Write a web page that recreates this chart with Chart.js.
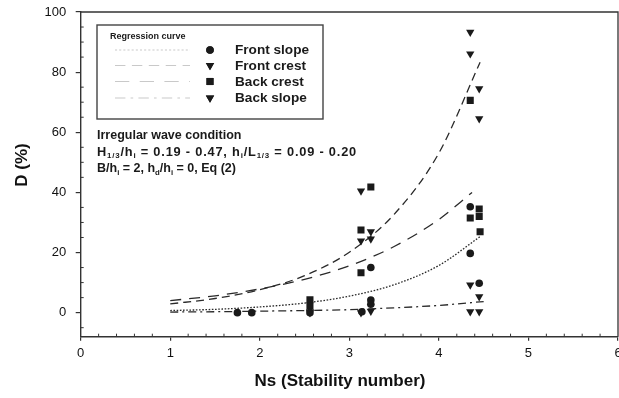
<!DOCTYPE html>
<html>
<head>
<meta charset="utf-8">
<script src="https://cdn.jsdelivr.net/npm/chart.js@4/dist/chart.umd.min.js"></script>
<style>
  html, body { margin: 0; padding: 0; background: #fff; }
  #c { display: block; }
</style>
</head>
<body>
<canvas id="c" width="619" height="398"></canvas>
<script>
// Damage D (%) against stability number Ns, four armour sections
const xTicks = [0, 1, 2, 3, 4, 5, 6];
const yTicks = [0, 20, 40, 60, 80, 100];

// Measured points [Ns, D]
const frontSlopePts = [[1.75, 0], [1.91, 0], [2.56, 0], [3.14, 0.3], [3.24, 15], [3.24, 4.2], [3.24, 2.8], [4.35, 35.2], [4.35, 19.7], [4.45, 9.8]];
const frontCrestPts = [[2.56, 0.3], [3.13, 40.5], [3.13, 23.9], [3.24, 26.9], [3.24, 24.5], [4.35, 93.3], [4.35, 86.1], [4.45, 74.5], [4.45, 64.5]];
const backCrestPts = [[2.56, 4.3], [2.56, 2.3], [3.13, 27.5], [3.13, 13.3], [3.24, 41.8], [4.35, 70.6], [4.35, 31.5], [4.45, 34.5], [4.45, 32.0], [4.46, 26.9]];
const backSlopePts = [[2.56, 0], [3.13, 0], [3.24, 0.5], [4.35, 9.2], [4.45, 5.3], [4.35, 0.3], [4.45, 0.3]];

// Regression curves [Ns, D]
const frontSlopeCurve = [[1.0, 0.7], [1.5, 1.1], [2.0, 1.9], [2.5, 3.2], [3.0, 5.5], [3.5, 9.3], [4.0, 15.7], [4.47, 25.5]];
const frontCrestCurve = [[1.0, 2.9], [1.5, 4.7], [2.0, 7.6], [2.5, 12.3], [3.0, 20.1], [3.5, 32.7], [4.0, 53.1], [4.46, 83.3]];
const backCrestCurve = [[1.0, 4.0], [1.5, 5.6], [2.0, 7.9], [2.5, 11.1], [3.0, 15.6], [3.5, 22.0], [4.0, 31.0], [4.37, 40.0]];
const backSlopeCurve = [[1.0, 0.2], [1.5, 0.3], [2.0, 0.5], [2.5, 0.7], [3.0, 1.0], [3.5, 1.6], [4.0, 2.4], [4.5, 3.7]];

const seriesNames = ['Front slope', 'Front crest', 'Back crest', 'Back slope'];

const INK = '#1a1a1a';
const AXIS = '#333';
const FONT = '"Liberation Sans", Arial, sans-serif';

const toXY = arr => arr.map(([x, y]) => ({ x, y }));

const markerStyle = [
  { pointStyle: 'circle', radius: 3.8, rotation: 0 },
  { pointStyle: 'triangle', radius: 4.8, rotation: 180 },
  { pointStyle: 'rect', radius: 5, rotation: 0 },
  { pointStyle: 'triangle', radius: 4.8, rotation: 180 }
];
const curveDash = [[1.6, 1.6], [8, 5], [11, 8], [8, 4, 2, 4]];

function pointSet(name, pts, m) {
  return {
    label: name, data: toXY(pts), showLine: false,
    pointStyle: m.pointStyle, pointRadius: m.radius, rotation: m.rotation,
    backgroundColor: INK, borderColor: INK, borderWidth: 0, order: 1
  };
}
function curveSet(name, pts, dash) {
  return {
    label: name + ' curve', data: toXY(pts), showLine: true, pointRadius: 0,
    borderColor: '#2a2a2a', borderWidth: 1.3, borderDash: dash,
    cubicInterpolationMode: 'monotone', fill: false, order: 2
  };
}

const datasets = [
  curveSet(seriesNames[0], frontSlopeCurve, curveDash[0]),
  curveSet(seriesNames[1], frontCrestCurve, curveDash[1]),
  curveSet(seriesNames[2], backCrestCurve, curveDash[2]),
  curveSet(seriesNames[3], backSlopeCurve, curveDash[3]),
  pointSet(seriesNames[0], frontSlopePts, markerStyle[0]),
  pointSet(seriesNames[1], frontCrestPts, markerStyle[1]),
  pointSet(seriesNames[2], backCrestPts, markerStyle[2]),
  pointSet(seriesNames[3], backSlopePts, markerStyle[3])
];

// Draw a line of text with subscript runs
function drawRuns(ctx, runs, x, y, size, spacing) {
  let cx = x;
  ctx.letterSpacing = (spacing || 0) + 'px';
  runs.forEach(r => {
    if (r.sub) {
      ctx.font = 'bold ' + (size * 0.62).toFixed(1) + 'px ' + FONT;
      ctx.fillText(r.t, cx, y + size * 0.28);
    } else {
      ctx.font = 'bold ' + size + 'px ' + FONT;
      ctx.fillText(r.t, cx, y);
    }
    cx += ctx.measureText(r.t).width;
  });
  ctx.letterSpacing = '0px';
}

const framePlugin = {
  id: 'frame',
  afterDatasetsDraw(chart) {
    const { ctx, chartArea: a, scales: { x, y } } = chart;
    ctx.save();
    ctx.strokeStyle = AXIS;
    ctx.lineWidth = 1.3;
    // top and right edges of the plot box
    ctx.beginPath();
    ctx.moveTo(a.left, a.top); ctx.lineTo(a.right, a.top); ctx.lineTo(a.right, a.bottom);
    ctx.stroke();
    // minor ticks, pointing inward
    ctx.lineWidth = 1;
    ctx.beginPath();
    for (let v = 0.2; v < 6; v += 0.2) {
      if (Math.abs(v - Math.round(v)) < 1e-6) continue;
      const px = x.getPixelForValue(v);
      ctx.moveTo(px, a.bottom); ctx.lineTo(px, a.bottom - 3);
    }
    for (let v = -5; v < 100; v += 5) {
      if (v % 20 === 0) continue;
      const py = y.getPixelForValue(v);
      ctx.moveTo(a.left, py); ctx.lineTo(a.left + 3, py);
    }
    ctx.stroke();

    // axis titles
    ctx.fillStyle = '#111';
    ctx.textAlign = 'center';
    ctx.textBaseline = 'middle';
    ctx.font = 'bold 17px ' + FONT;
    ctx.fillText('Ns (Stability number)', 340, 381);
    ctx.save();
    ctx.translate(22, 165);
    ctx.rotate(-Math.PI / 2);
    ctx.fillText('D (%)', 0, 0);
    ctx.restore();

    // legend box
    const L = { x: 97, y: 25, w: 226, h: 94 };
    ctx.lineWidth = 1.4;
    ctx.strokeStyle = '#444';
    ctx.strokeRect(L.x, L.y, L.w, L.h);
    ctx.fillStyle = INK;
    ctx.textBaseline = 'middle';
    ctx.textAlign = 'left';
    ctx.font = 'bold 9px ' + FONT;
    ctx.fillText('Regression curve', 110, 36.5);
    const rowY = [50, 65.5, 81.5, 98];
    rowY.forEach((ry, i) => {
      ctx.save();
      ctx.strokeStyle = '#c9c9c9';
      ctx.lineWidth = 1.2;
      ctx.setLineDash(curveDash[i].map(d => d * 1.3));
      ctx.beginPath(); ctx.moveTo(115, ry); ctx.lineTo(190, ry); ctx.stroke();
      ctx.restore();
      const m = markerStyle[i];
      Chart.helpers.drawPoint(ctx, { pointStyle: m.pointStyle, radius: m.radius, rotation: m.rotation, borderWidth: 0 }, 210, ry);
      ctx.fill();
      ctx.font = 'bold 13.6px ' + FONT;
      ctx.fillText(seriesNames[i], 235, ry + 0.5);
    });

    // test-condition note
    ctx.textBaseline = 'middle';
    ctx.font = 'bold 12.5px ' + FONT;
    ctx.fillText('Irregular wave condition', 97, 136);
    drawRuns(ctx, [
      { t: 'H' }, { t: '1/3', sub: true }, { t: '/h' }, { t: 'i', sub: true },
      { t: ' = 0.19 - 0.47, h' }, { t: 'i', sub: true }, { t: '/L' }, { t: '1/3', sub: true },
      { t: ' = 0.09 - 0.20' }
    ], 97, 152, 12.8, 0.8);
    drawRuns(ctx, [
      { t: 'B/h' }, { t: 'i', sub: true }, { t: ' = 2, h' }, { t: 'd', sub: true },
      { t: '/h' }, { t: 'i', sub: true }, { t: ' = 0, Eq (2)' }
    ], 97, 169, 12.5, 0);
    ctx.restore();
  }
};

const tickFont = { family: FONT, size: 13 };

new Chart(document.getElementById('c'), {
  type: 'scatter',
  data: { datasets },
  plugins: [framePlugin],
  options: {
    responsive: false,
    animation: false,
    events: [],
    layout: { autoPadding: false, padding: { top: 12, right: 1, left: 0, bottom: 0 } },
    plugins: { legend: { display: false }, tooltip: { enabled: false } },
    scales: {
      x: {
        type: 'linear', min: 0, max: 6,
        afterBuildTicks: s => { s.ticks = xTicks.map(v => ({ value: v })); },
        afterFit: s => { s.height = 61.3; s.paddingLeft = 0; s.paddingRight = 0; },
        grid: { display: true, drawOnChartArea: false, drawTicks: true, tickLength: 4, color: AXIS, lineWidth: 1.2 },
        border: { display: true, color: AXIS, width: 1.4 },
        ticks: { padding: 5, font: tickFont, color: '#111', maxRotation: 0, autoSkip: false },
        title: { display: false }
      },
      y: {
        type: 'linear', min: -8, max: 100,
        afterBuildTicks: s => { s.ticks = yTicks.map(v => ({ value: v })); },
        afterFit: s => { s.width = 80.7; s.paddingTop = 0; s.paddingBottom = 0; },
        grid: { display: true, drawOnChartArea: false, drawTicks: true, tickLength: 5, color: AXIS, lineWidth: 1.2 },
        border: { display: true, color: AXIS, width: 1.4 },
        ticks: { padding: 9.5, font: tickFont, color: '#111', autoSkip: false },
        title: { display: false }
      }
    }
  }
});
</script>
</body>
</html>
